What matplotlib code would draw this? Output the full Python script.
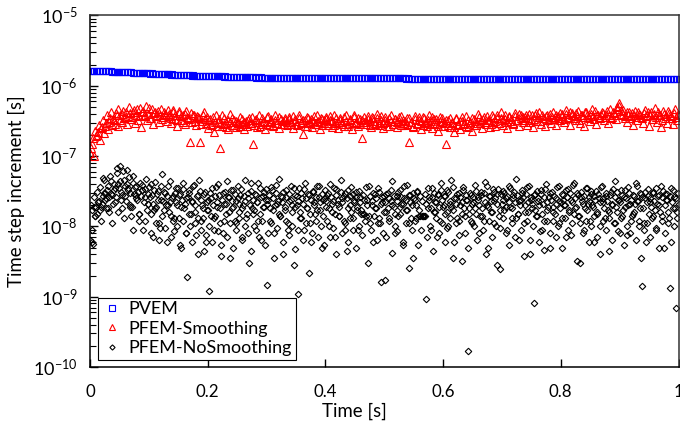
import numpy as np
import matplotlib
matplotlib.use("Agg")
import matplotlib.pyplot as plt
from matplotlib.ticker import LogLocator, FixedLocator, NullFormatter, FuncFormatter

plt.rcParams['font.family'] = ['Lato', 'DejaVu Sans']
plt.rcParams['mathtext.fontset'] = 'custom'
plt.rcParams['mathtext.rm'] = 'Lato'
plt.rcParams['mathtext.it'] = 'Lato:italic'
plt.rcParams['mathtext.bf'] = 'Lato:bold'

# ---------------- data ----------------
# PVEM time step (units of 1e-8 s), two interleaved output streams
pvem_dt_a = [162,162,162,161,161,161,160,160,159,159,158,
             157,157,156,155,154,154,153,152,151,150,
             150,149,148,148,147,146,146,145,144,143,
             143,142,142,141,141,140,140,139,139,138,
             138,137,137,137,136,136,135,135,135,134,
             134,134,133,133,133,132,132,132,131,131,
             131,131,130,130,130,130,130,129,129,129,
             129,129,129,129,129,128,128,128,128,128,
             128,128,128,128,128,128,128,128,127,127,
             127,127,127,127,127,127,127,127,127,127,
             127,127,127,127,127,127,127,127,126,126,
             126,126,126,126,126,126,126,126,126,126,
             126,126,126,126,126,126,126,126,126,126,
             126,126,126,126,126,126,126,126,126,126,
             126,126,126,126,126,126,126,126,126,126,
             126,126,126,126,126,126,126,126,126,126,
             126,126,126,125,125,125,125,125,125,125,
             125,125,125,125,125,125,125,125,125,125,
             125,125,125,125,125,125,125,125,125,125,
             125,125,125,125,125,125,125,125,125,125]
pvem_dt_b = [162,162,161,161,161,160,160,159,159,158,
             157,156,156,155,154,153,152,152,151,150,
             149,149,148,147,147,146,145,144,144,143,
             142,142,141,141,140,140,139,139,138,138,
             137,137,136,136,136,135,135,134,134,134,
             133,133,133,132,132,132,131,131,131,131,
             130,130,130,130,130,129,129,129,129,129,
             129,129,129,129,128,128,128,128,128,128,
             128,128,128,128,128,128,128,127,127,127,
             127,127,127,127,127,127,127,127,127,127,
             127,127,127,127,127,127,127,126,126,126,
             126,126,126,126,126,126,126,126,126,126,
             126,126,126,126,126,126,126,126,126,126,
             126,126,126,126,126,126,126,126,126,126,
             126,126,126,126,126,126,126,126,126,126,
             126,126,126,126,126,126,126,126,126,126,
             125,125,125,125,125,125,125,125,125,125,
             125,125,125,125,125,125,125,125,125,125,
             125,125,125,125,125,125,125,125,125,125,
             125,125,125,125,125,125,125,125,125,125]

# PFEM-Smoothing time step (units of 1e-8 s), two output streams
smooth_dt_a = [11,15,10,19,22,17,26,21,30,24,35,28,33,41,27,38,31,44,36,29,
               50,34,42,30,47,37,26,44,39,33,48,35,29,43,38,31,46,36,40,32,
               37,30,45,34,27,41,33,38,29,44,35,16,31,39,28,36,16,32,42,30,
               25,34,29,22,38,31,13,27,35,30,24,40,28,33,26,31,36,29,24,32,
               27,35,30,15,33,26,38,29,31,24,36,28,32,27,39,30,25,34,29,33,
               28,36,31,25,34,29,38,30,20.5,33,27,35,31,26,37,29,32,24,34,30,
               36,28,33,26,39,30,25,35,31,27,38,29,33,24,36,30,27,34,18,31,
               29,37,32,26,35,30,40,28,33,25,36,31,27,38,29,34,26,32,37,30,
               28,35,16,31,26,37,29,33,24,36,30,27,39,32,25,34,29,23,36,31,
               27,15,33,26,30,22,35,28,24,32,29,37,26,31,23,34,28,40,30,25,
               36,29,33,26,39,31,27,35,30,42,28,34,25,37,32,29,41,33,27,38,
               31,36,28,40,33,26,38,32,43,29,35,27,39,34,30,42,36,28,37,33,
               40,31,45,35,28,41,37,33,44,30,38,27,42,36,32,46,34,29,39,35,
               43,33,38,30,47,36,41,34,50,57,39,45,35,31,42,37,28,44,33,40,
               36,30,45,38,27,42,34,48,31,39,26,44,35,30,41,37,29,46,33,39]
smooth_dt_b = [13,18,23,20,28,25,33,27,38,31,42,34,29,39,46,33,40,35,43,37,
               41,36,45,39,33,48,42,37,52,40,35,46,41,37,44,39,34,42,38,45,
               40,35,42,38,33,44,37,31,40,36,34,41,38,32,37,35,29,39,34,36,
               33,28,36,31,27,34,30,38,29,26,33,31,35,28,32,30,27,34,31,29,
               33,30,36,28,34,31,27,35,32,29,37,31,34,28,33,30,36,29,32,35,
               31,34,29,37,32,28,35,31,33,27,36,30,34,32,29,38,31,35,28,33,
               34,30,37,32,28,35,31,33,29,36,32,27,34,30,38,31,35,29,33,36,
               31,34,28,36,32,29,35,31,37,30,33,27,35,32,29,34,31,36,28,33,
               32,29,35,31,27,34,30,36,32,28,35,31,33,29,36,30,34,27,32,35,
               30,33,28,35,31,26,34,29,32,36,30,27,33,31,35,28,32,30,36,33,
               34,31,37,33,29,36,32,38,30,35,33,39,31,36,34,30,37,33,40,35,
               36,33,39,35,31,38,34,41,36,32,39,35,37,33,40,36,34,38,35,41,
               37,34,40,36,43,38,35,41,37,33,39,36,42,38,35,40,37,44,39,36,
               38,41,36,44,39,35,42,38,46,52,44,40,37,43,39,35,41,38,36,42,
               39,35,41,37,43,38,34,40,36,42,38,33,40,37,44,39,35,41,36,40]

# PFEM-NoSmoothing time step (units of 1e-9 s), three output streams
nosmooth_dt_a = [6.5,6,5.7,19,19,15,23,17,21,49,30,25,38,16,44,28,33,22,67,40,
                 72,31,18,45,27,63,35,20,14,52,29,38,24,12,41,33,9,26,47,21,
                 36,15,28,7,43,19,32,11,24,55,17,30,6,38,22,14,27,8.5,35,20,
                 13,29,5,42,18,25,1.9,33,10,22,37,16,7.5,28,46,12,20,4.5,31,17,
                 24,1.2,14,35,9,27,19,40,11,5.5,30,21,15,44,26,3.5,18,33,12,23,
                 38,16,28,7,20,45,13,25,3,32,18,10,29,22,41,15,6.5,27,19,34,
                 1.45,24,12,36,17,8,30,21,47,14,26,4,19,33,11,23,38,16,2.8,28,
                 20,1.1,35,13,25,9,42,18,29,15,6,31,22,12,37,26,17,5,24,33,
                 19,28,10,40,16,23,7,34,21,14,46,25,12,30,4.5,18,27,36,13,22,
                 31,17,9,26,15,15,15,14,24,38,11,20,6,29,18,35,13,1.6,22,27,
                 1.75,16,30,12,23,44,19,8,27,14,33,21,5.5,25,17,39,11,28,20,3.5,
                 24,13,31,14,14,14,14,14,0.94,18,26,9,35,16,22,7,29,12,41,19,
                 27,15,33,10,21,45,17,6,25,13,30,20,3.2,36,14,24,0.17,18,28,11,
                 22,39,15,26,8,31,18,12,43,20,5,27,16,34,23,10,29,14,2.5,21,
                 32,17,25,9,38,19,13,28,22,47,15,6.5,24,30,11,20,36,16,4,26,
                 18,0.8,29,14,23,8.5,33,21,12,40,17,26,5,31,19,15,25,10,37,22,
                 13,28,20,7,34,16,24,11,42,18,30,14,3,26,21,9,35,17,23,12,
                 29,19,6,32,15,25,10,38,22,13,27,17,4.5,31,20,11,44,16,24,8,
                 33,14,26,19,7.5,36,21,12,28,16,41,23,10,30,1.4,18,25,6,34,15,
                 22,13,31,17,9,27,20,38,14,5,29,24,11,1.35,35,18,26,0.7,16,21]
nosmooth_dt_b = [20,17,26,14,31,22,36,19,27,45,24,33,18,52,29,21,40,26,58,35,
                 44,28,61,38,23,33,50,30,19,42,36,25,31,15,27,39,22,34,17,29,
                 26,40,21,33,18,29,24,9.5,37,23,31,20,27,16,44,25,12,30,22,35,
                 28,19,24,34,21,8,26,30,15,23,39,20,27,13,32,24,18,29,6,22,
                 17,30,25,20,13,36,22,28,18,24,8,31,21,26,16,33,23,19,29,11,
                 25,21,34,18,27,23,15,30,20,42,24,17,28,22,12,35,26,19,31,24,
                 21,28,18,33,25,20,39,23,15,27,22,31,17,26,9,29,24,20,35,19,
                 27,23,16,30,21,34,25,18,28,11,24,32,20,26,17,38,22,29,14,25,
                 23,30,18,26,21,35,15,28,24,19,31,22,27,9,25,33,20,16,29,24,
                 26,19,32,22,17,28,24,36,20,14,27,23,30,18,25,11,31,21,26,16,
                 22,29,18,25,33,20,27,15,23,31,19,26,21,38,24,17,28,22,13,30,
                 25,20,32,17,27,23,14,29,21,35,24,18,26,30,16,22,28,19,33,24,
                 20,27,16,31,23,19,36,25,21,29,12,26,22,33,18,28,24,15,30,21,
                 26,18,32,24,20,28,14,30,22,37,19,27,23,16,31,25,21,34,17,29,
                 24,30,19,27,22,35,18,25,31,13,28,23,20,33,26,16,29,22,38,24,
                 21,28,17,32,25,20,29,15,26,34,22,19,30,24,12,27,21,36,23,18,
                 29,24,20,33,26,17,30,22,39,25,19,28,14,31,23,27,18,35,21,26,
                 32,20,27,24,16,29,22,36,25,18,30,23,13,28,21,34,26,19,31,24,
                 22,28,17,33,25,20,30,24,14,27,21,37,23,18,29,26,11,31,22,27,
                 25,19,30,23,35,21,28,16,26,32,20,24,29,13,27,22,33,18,25,30]
nosmooth_dt_c = [9,14,22,12,30,18,26,11,35,16,
                 24,13,40,19,9,28,15,33,12,21,
                 8,17,11,6.5,14,9.5,20,7,13,10,
                 5.5,12,8,15,6,11,4,9,13,7.5,
                 10,6,14,8.5,3.8,12,7,11,5,9,
                 13,6.5,10,8,4.5,15,9,7,12,5.5,
                 8,11,3.5,9.5,14,6,12,7.5,10,4.8,
                 9,13,6.5,11,2.2,8,15,7,10,5.5,
                 12,7,9.5,4,14,8,11,6,13,9,
                 5,10,7.5,12,3,9,14,6.5,11,8,
                 7,13,4.2,10,8.5,15,6,11,2.6,9,
                 12,5.5,9,14,7,10,4.5,13,8,11,
                 6,9.5,13,3.5,11,7.5,15,8,5,12,
                 10,6.5,14,9,4,12,7,11,2.8,9.5,
                 13,8,5.5,11,7,15,9,3.8,12,6.5,
                 10,14,6,9,4.6,12,8,16,7,11,
                 5,13,9,7.5,15,3.2,11,8,12,6,
                 10,14,7,4,12,9,16,6.5,11,8.5,
                 13,5.5,10,8,15,6.5,12,3.6,9,11,
                 7,14,9.5,5,12,8,16,6,10,13]

x_ticks = [0, 0.2, 0.4, 0.6, 0.8, 1.0]
x_ticklabels = ["0", "0.2", "0.4", "0.6", "0.8", "1"]

# time stamps of the output samples
t_pvem_a = np.linspace(0, 1, len(pvem_dt_a))
t_pvem_b = np.linspace(0.0025, 0.9975, len(pvem_dt_b))
t_smooth_a = np.linspace(0, 1, len(smooth_dt_a))
t_smooth_b = np.linspace(0.0017, 0.9983, len(smooth_dt_b))
t_nosmooth_a = np.linspace(0, 1, len(nosmooth_dt_a))
t_nosmooth_b = np.linspace(0.00125, 0.99875, len(nosmooth_dt_b))
t_nosmooth_c = np.linspace(0.003, 0.997, len(nosmooth_dt_c))

# ---------------- figure ----------------
fig = plt.figure(figsize=(6.8, 4.21), dpi=100)
ax = fig.add_axes([0.1324, 0.1283, 0.8654, 0.8349])

blue_kw = dict(ls='none', marker='s', ms=5.0, mfc='none', mec='#0000FF', mew=0.8)
red_kw = dict(ls='none', marker='^', ms=5.2, mfc='none', mec='#FF0000', mew=0.8)
blk_kw = dict(ls='none', marker='D', ms=3.3, mfc='none', mec='black', mew=0.8)

ax.plot(t_pvem_a, np.array(pvem_dt_a) * 1e-8, label='PVEM', **blue_kw)
ax.plot(t_pvem_b, np.array(pvem_dt_b) * 1e-8, **blue_kw)
ax.plot(t_smooth_a, np.array(smooth_dt_a) * 1e-8, label='PFEM-Smoothing', **red_kw)
ax.plot(t_smooth_b, np.array(smooth_dt_b) * 1e-8, **red_kw)
ax.plot(t_nosmooth_a, np.array(nosmooth_dt_a) * 1e-9, label='PFEM-NoSmoothing', **blk_kw)
ax.plot(t_nosmooth_b, np.array(nosmooth_dt_b) * 1e-9, **blk_kw)
ax.plot(t_nosmooth_c, np.array(nosmooth_dt_c) * 1e-9, **blk_kw)

ax.set_yscale('log')
ax.set_ylim(1e-10, 1e-5)
ax.set_xlim(0, 1)

ax.xaxis.set_major_locator(FixedLocator(x_ticks))
ax.set_xticklabels(x_ticklabels)
ax.yaxis.set_major_locator(LogLocator(base=10, numticks=10))
ax.yaxis.set_minor_locator(LogLocator(base=10, subs=np.arange(2, 10), numticks=20))
ax.yaxis.set_minor_formatter(NullFormatter())
ax.yaxis.set_major_formatter(FuncFormatter(lambda v, p: r'$10^{%d}$' % int(round(np.log10(v)))))

ax.tick_params(axis='x', which='major', direction='in', length=6, width=1.0,
               labelsize=12.2, pad=12)
ax.tick_params(axis='y', which='major', direction='in', length=6, width=1.0,
               labelsize=13, pad=9)
ax.tick_params(axis='y', which='minor', direction='in', length=4, width=0.8)

for s in ax.spines.values():
    s.set_linewidth(1.1)
    s.set_color('#333333')
ax.spines['left'].set_color('black')
ax.spines['bottom'].set_color('black')

ax.set_xlabel('Time [s]', fontsize=13.4)
ax.xaxis.set_label_coords(0.45, -0.125)
ax.xaxis.label.set_va('center')
ax.set_ylabel('Time step increment [s]', fontsize=13.4)
ax.yaxis.set_label_coords(-0.11, 0.5)

leg = ax.legend(loc='lower left', bbox_to_anchor=(0.0136, 0.02), borderaxespad=0,
                fancybox=False, framealpha=1, edgecolor='black', fontsize=13,
                handletextpad=0.3, handlelength=1.2, borderpad=0.2,
                labelspacing=0.2, markerscale=0.8)
leg.get_frame().set_linewidth(0.8)

fig.savefig('out.png', dpi=100)
